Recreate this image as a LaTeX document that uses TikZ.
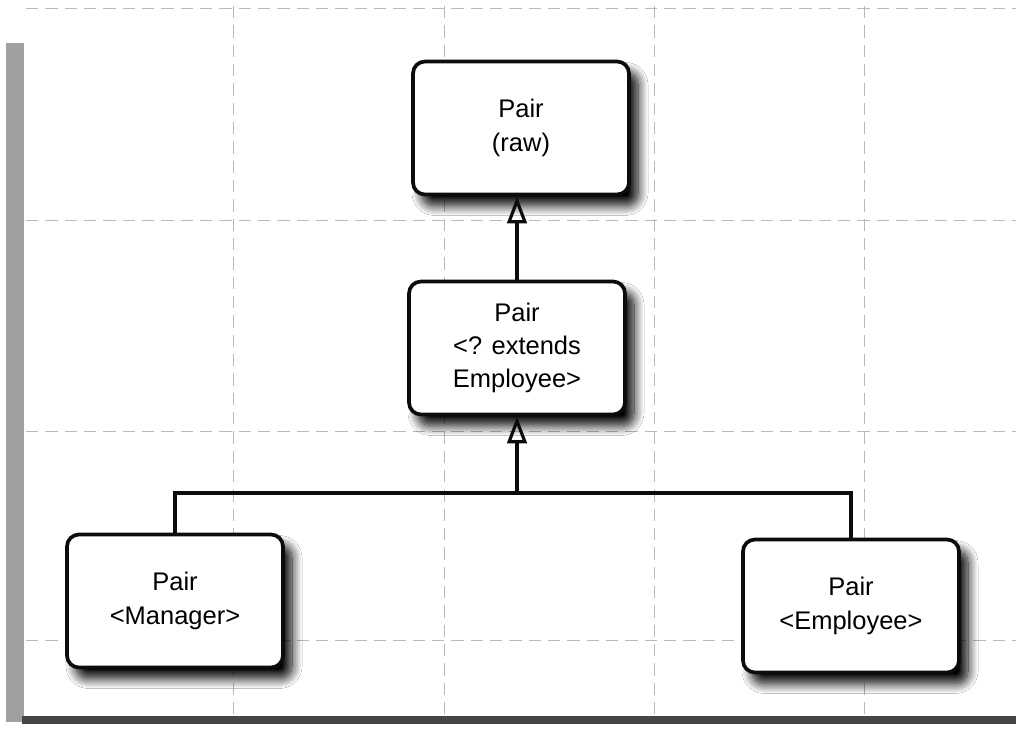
\documentclass[tikz,border=0pt]{standalone}
\usepackage{fontspec}
\setsansfont{Liberation Sans}
\usepackage{tikz}
\usetikzlibrary{arrows.meta,positioning,shadows.blur}
\definecolor{pairedge}{RGB}{12,12,12}
\definecolor{pairgrid}{RGB}{185,185,185}
\definecolor{pageedge}{RGB}{160,160,160}
\definecolor{pagefoot}{RGB}{70,70,70}
\tikzset{
  pairbox/.style={
    draw=pairedge, line width=2.1pt, rounded corners=2.4mm, fill=white,
    align=center, font=\fontsize{14.5}{19}\selectfont\sffamily,
    minimum width=43.2mm, minimum height=26.6mm,
    blur shadow={shadow xshift=1.8mm, shadow yshift=-2.2mm,
      shadow blur radius=2mm, shadow blur steps=12, shadow opacity=100}
  },
  inh/.style={-{Triangle[open,length=5.4mm,width=3.9mm,line width=1.8pt]}, draw=pairedge, line width=2.1pt},
  link/.style={draw=pairedge, line width=2.1pt},
  gridln/.style={draw=pairgrid, line width=0.5pt, dash pattern=on 7pt off 4pt}
}
\begin{document}
\begin{tikzpicture}[x=0.2mm, y=-0.2mm]
  \useasboundingbox[fill=white] (0,0) rectangle (1016,729);
  % page edges and grid
  \fill[pageedge] (6,43) rectangle (24,722);
  \fill[pagefoot] (22,716) rectangle (1016,724);
  \foreach \gx in {233,444,654,864} \draw[gridln] (\gx,6) -- (\gx,714);
  \foreach \gy in {8,220,431,640} \draw[gridln] (26,\gy) -- (1016,\gy);
  % boxes
  \node[pairbox] (raw) at (521,128) {Pair\\(raw)};
  \node[pairbox] (ext) at (517,348) {Pair\\<? extends\\Employee>};
  \node[pairbox] (mgr) at (175,601) {Pair\\<Manager>};
  \node[pairbox] (emp) at (851,606) {Pair\\<Employee>};
  \coordinate (hub) at (517,493);
  % connectors
  \draw[inh] (ext.north) -- (raw.south -| ext.north);
  \draw[inh] (hub) -- (ext.south);
  \draw[link] (mgr.north) -- (mgr.north |- hub) -- (emp.north |- hub) -- (emp.north);
\end{tikzpicture}
\end{document}
